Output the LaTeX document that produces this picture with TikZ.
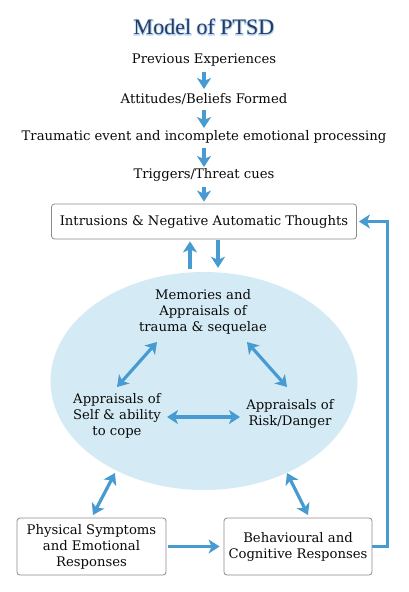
\documentclass[tikz,border=0pt]{standalone}
\usepackage{fontspec}
\setmainfont{DejaVu Serif}
\newfontfamily\titlefont{Liberation Serif}
\newfontfamily\titleglow[FakeBold=8]{Liberation Serif}
\usetikzlibrary{arrows.meta,shapes.geometric,calc}
\definecolor{arrblue}{RGB}{72,155,208}
\definecolor{ellfill}{RGB}{212,235,246}
\definecolor{navy}{RGB}{40,58,100}
\definecolor{glow}{RGB}{185,215,240}
\definecolor{boxgray}{RGB}{140,140,140}
\definecolor{txt}{RGB}{10,10,10}
\tikzset{
  tip/.tip={Stealth[length=11pt,width=14pt,inset=3pt]},
  arr/.style={draw=arrblue, line width=3.2pt, -tip},
  darr/.style={draw=arrblue, line width=3.2pt, tip-tip},
  lbl/.style={text=txt, font=\fontsize{13.2}{16}\selectfont, align=center, inner sep=1pt},
  box/.style={lbl, draw=boxgray, line width=0.8pt, rounded corners=3pt, fill=white, inner sep=0pt},
  ttl/.style={font=\titlefont\fontsize{22}{24}\selectfont, inner sep=0pt},
  ttlg/.style={font=\titleglow\fontsize{22}{24}\selectfont, inner sep=0pt}
}
\begin{document}
\begin{tikzpicture}[x=1pt,y=-1pt]
\useasboundingbox[fill=white] (0,0) rectangle (408,592);
% title with glow
\node[ttlg, text=glow] (titleglow) at (204,27) {Model of PTSD};
\node[ttl, text=navy] (title) at (204,27) {Model of PTSD};
% chain
\node[lbl] (prev) at (204,60) {Previous Experiences};
\node[lbl] (att) at (204,99) {Attitudes/Beliefs Formed};
\node[lbl] (trauma) at (204,137) {Traumatic event and incomplete emotional processing};
\node[lbl] (trig) at (204,175) {Triggers/Threat cues};
\node[box, minimum width=305pt, minimum height=35pt] (intr) at (204,221.5) {Intrusions \& Negative Automatic Thoughts};
\draw[arr] ([yshift=-12pt]prev.center) -- ([yshift=10pt]att.center);
\draw[arr] ([yshift=-11pt]att.center) -- ([yshift=9pt]trauma.center);
\draw[arr] ([yshift=-11pt]trauma.center) -- ([yshift=8pt]trig.center);
\draw[arr] ([yshift=-12pt]trig.center) -- ([yshift=2pt]intr.north);
% ellipse
\node[ellipse, fill=ellfill, minimum width=307pt, minimum height=218pt, inner sep=0pt] (ell) at (204,381) {};
\draw[arr] ([xshift=-14pt,yshift=3pt]ell.north) -- ([xshift=-14pt,yshift=-2pt]intr.south);
\draw[arr] ([xshift=14pt,yshift=-1pt]intr.south) -- ([xshift=14pt,yshift=4pt]ell.north);
\node[lbl] (mem) at (203,312) {Memories and\\Appraisals of\\trauma \& sequelae};
\node[lbl] (self) at (117,416) {Appraisals of\\Self \& ability\\to cope};
\node[lbl] (risk) at (290,414) {Appraisals of\\Risk/Danger};
\coordinate (m1) at (157,342);
\coordinate (s1) at (117,387);
\coordinate (m2) at (247,342);
\coordinate (r1) at (287,387);
\coordinate (s2) at (167,417);
\coordinate (r2) at (240,417);
\coordinate (e1) at (115,473);
\coordinate (p1) at (93,515);
\coordinate (e2) at (287,473);
\coordinate (b1) at (308,515);
\draw[darr] (m1) -- (s1);
\draw[darr] (m2) -- (r1);
\draw[darr] (s2) -- (r2);
\draw[darr] (e1) -- (p1);
\draw[darr] (e2) -- (b1);
% bottom boxes
\node[box, minimum width=149pt, minimum height=57pt] (phys) at (91.5,546.5) {Physical Symptoms\\and Emotional\\Responses};
\node[box, minimum width=148pt, minimum height=57pt] (beh) at (298,546.5) {Behavioural and\\Cognitive Responses};
\draw[arr] ([xshift=2pt]phys.east) -- ([xshift=-4pt]beh.west);
\draw[arr] (beh.east) -- ++(15,0) |- ([xshift=2pt]intr.east);
\end{tikzpicture}
\end{document}
